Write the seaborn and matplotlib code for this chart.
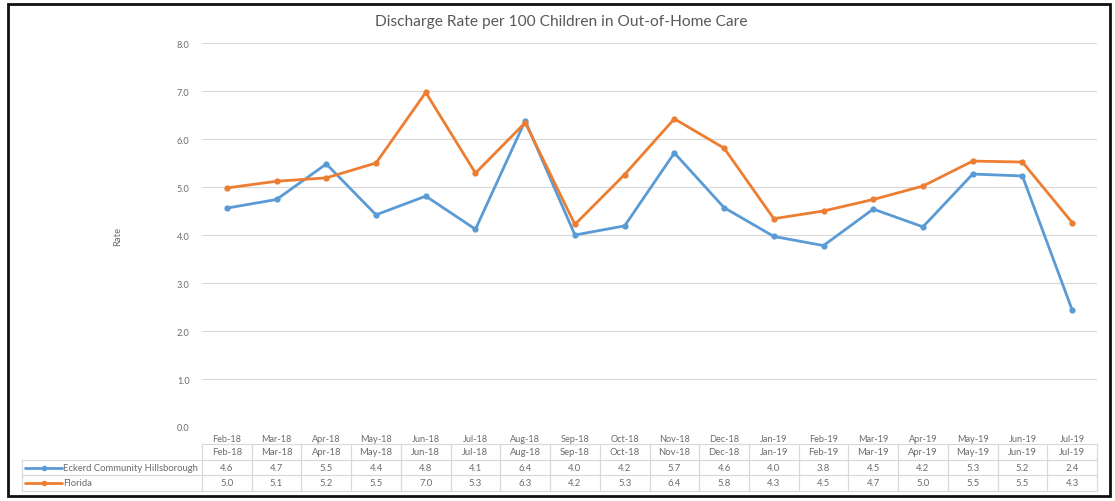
import matplotlib
matplotlib.use("Agg")
import matplotlib.pyplot as plt
import seaborn as sns
import pandas as pd
from matplotlib.lines import Line2D
from matplotlib.patches import Rectangle

months = ["Feb-18", "Mar-18", "Apr-18", "May-18", "Jun-18", "Jul-18", "Aug-18", "Sep-18", "Oct-18",
          "Nov-18", "Dec-18", "Jan-19", "Feb-19", "Mar-19", "Apr-19", "May-19", "Jun-19", "Jul-19"]
eckerd = [4.56, 4.74, 5.48, 4.42, 4.81, 4.12, 6.38, 4.00, 4.19, 5.71, 4.57, 3.97, 3.78, 4.54, 4.17, 5.27, 5.23, 2.44]
florida = [4.98, 5.12, 5.19, 5.50, 6.97, 5.29, 6.34, 4.22, 5.26, 6.42, 5.81, 4.34, 4.50, 4.74, 5.02, 5.54, 5.52, 4.26]
series_names = ["Eckerd Community Hillsborough", "Florida"]
colors = ["#5B9BD5", "#ED7D31"]
title = "Discharge Rate per 100 Children in Out-of-Home Care"

df = pd.DataFrame({
    "month": months * 2,
    "value": eckerd + florida,
    "series": [series_names[0]] * len(months) + [series_names[1]] * len(months),
})

sns.set_theme(style="white")
plt.rcParams['font.family'] = ['Lato', 'DejaVu Sans']
W, H = 1115, 502
fig = plt.figure(figsize=(W / 100, H / 100), dpi=100)
fig.patch.set_facecolor("white")

ax_l, ax_r, ax_t, ax_b = 202, 1097, 44, 428
ax = fig.add_axes([ax_l / W, 1 - ax_b / H, (ax_r - ax_l) / W, (ax_b - ax_t) / H])

sns.lineplot(data=df, x="month", y="value", hue="series", palette=colors, marker="o",
             markersize=4.5, markeredgewidth=0, linewidth=2, sort=False, legend=False, ax=ax)

n = len(months)
ax.set_xlim(-0.5, n - 0.5)
ax.set_ylim(0, 8)
ax.set_yticks([0, 1, 2, 3, 4, 5, 6, 7, 8])
ax.set_yticklabels([f"{v:.1f}" for v in range(9)])
ax.yaxis.grid(True, color="#D9D9D9", linewidth=0.8)
ax.xaxis.grid(False)
for s in ax.spines.values():
    s.set_visible(False)
ax.tick_params(axis="both", length=0, labelsize=6.6, labelcolor="#6b6b6b")
ax.tick_params(axis="y", pad=9)
ax.tick_params(axis="x", pad=5)
ax.set_xlabel("")
ax.set_ylabel("Rate", fontsize=6.8, color="#6b6b6b", labelpad=39)

fig.text(561 / W, 1 - 22 / H, title, ha="center", va="center", fontsize=11.2, color="#595959")

# data table
col_w = (ax_r - ax_l) / n
row_tops = [445, 461, 476, 492]
edge = "#D9D9D9"
ftext = dict(fontsize=6.8, color="#6b6b6b", va="center")
def fx(px):
    return px / W
def fy(py):
    return 1 - py / H

rows = [months, [f"{v:.1f}" for v in eckerd], [f"{v:.1f}" for v in florida]]
for r in range(3):
    y0, y1 = row_tops[r], row_tops[r + 1]
    for c in range(n):
        x0 = ax_l + c * col_w
        fig.patches.append(Rectangle((fx(x0), fy(y1)), col_w / W, (y1 - y0) / H, transform=fig.transFigure,
                                     fill=False, edgecolor=edge, linewidth=0.8))
        fig.text(fx(x0 + col_w / 2), fy((y0 + y1) / 2), rows[r][c], ha="center", **ftext)
    if r > 0:
        fig.patches.append(Rectangle((fx(22), fy(y1)), (ax_l - 22) / W, (y1 - y0) / H, transform=fig.transFigure,
                                     fill=False, edgecolor=edge, linewidth=0.8))
        ym = fy((y0 + y1) / 2)
        fig.lines.append(Line2D([fx(25), fx(62)], [ym, ym], transform=fig.transFigure,
                                color=colors[r - 1], linewidth=2))
        fig.lines.append(Line2D([fx(43.5)], [ym], transform=fig.transFigure, color=colors[r - 1],
                                marker="o", markersize=4, markeredgewidth=0))
        fig.text(fx(63), ym, series_names[r - 1], ha="left", **ftext)

# outer frame
fig.patches.append(Rectangle((fx(8), fy(497)), (1110 - 8) / W, (497 - 5) / H, transform=fig.transFigure,
                             fill=False, edgecolor="#111111", linewidth=2))

fig.savefig("out.png", dpi=100, facecolor="white")
